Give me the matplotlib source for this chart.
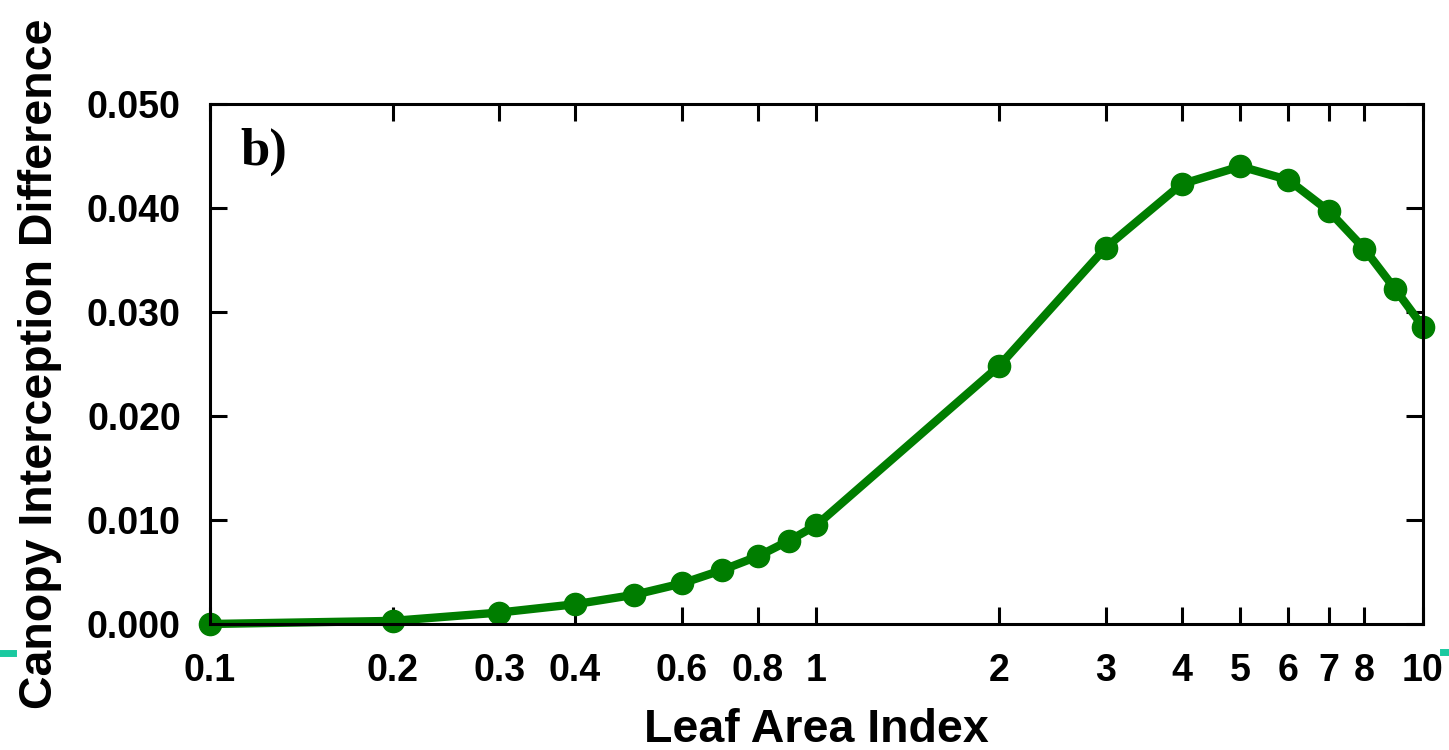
import numpy as np
import matplotlib.pyplot as plt
from matplotlib.lines import Line2D

# leaf area index values and interception difference
lai = [0.1, 0.2, 0.3, 0.4, 0.5, 0.6, 0.7, 0.8, 0.9, 1,
       2, 3, 4, 5, 6, 7, 8, 9, 10]
diff = [0.0000, 0.0003, 0.0011, 0.0019, 0.0028, 0.0039, 0.0052, 0.0065, 0.0080, 0.0095,
        0.0248, 0.0362, 0.0423, 0.0440, 0.0427, 0.0397, 0.0361, 0.0322, 0.0286]

xticks = [0.1, 0.2, 0.3, 0.4, 0.6, 0.8, 1, 2, 3, 4, 5, 6, 7, 8, 10]
xticklabels = ["0.1", "0.2", "0.3", "0.4", "0.6", "0.8", "1", "2", "3", "4", "5", "6", "7", "8", "10"]
yticks = [0.0, 0.01, 0.02, 0.03, 0.04, 0.05]
yticklabels = ["0.000", "0.010", "0.020", "0.030", "0.040", "0.050"]

plt.rcParams['font.family'] = ['Liberation Sans', 'DejaVu Sans']
plt.rcParams['font.weight'] = 'bold'

fig = plt.figure(figsize=(14.49, 7.5), dpi=100)
ax = fig.add_axes([0.1449, 0.168, 0.8371, 0.6933])

ax.plot(lai, diff, color="#007d00", lw=6, marker="o", ms=16, clip_on=False, zorder=2)

ax.set_xscale("log")
ax.set_xlim(0.1, 10)
ax.set_ylim(0, 0.05)
ax.set_xticks(xticks)
ax.set_xticklabels(xticklabels)
ax.xaxis.set_minor_locator(plt.NullLocator())
ax.set_yticks(yticks)
ax.set_yticklabels(yticklabels)

ax.tick_params(direction="in", length=12, width=2.2, top=True, right=True,
               labelsize=27, pad=21)
for s in ax.spines.values():
    s.set_linewidth(2.2)

ax.set_xlabel("Leaf Area Index", fontsize=33.5, fontweight="bold")
ax.set_ylabel("Canopy Interception Difference", fontsize=33.5, fontweight="bold")
ax.xaxis.set_label_coords(0.5, -0.162)
ax.yaxis.set_label_coords(-0.122, 0.5)

ax.text(0.025, 0.955, "b)", transform=ax.transAxes, fontsize=38, fontweight="bold",
        family="Liberation Serif", va="top", ha="left")

# small teal marks at the slide edges
fig.add_artist(Line2D([0, 0.009], [0.13, 0.13], color="#1ac9a0", lw=5,
                      transform=fig.transFigure, zorder=0))
fig.add_artist(Line2D([0.996, 1.0], [0.131, 0.131], color="#1ac9a0", lw=5,
                      transform=fig.transFigure, zorder=0))

fig.savefig("out.png", dpi=100)
